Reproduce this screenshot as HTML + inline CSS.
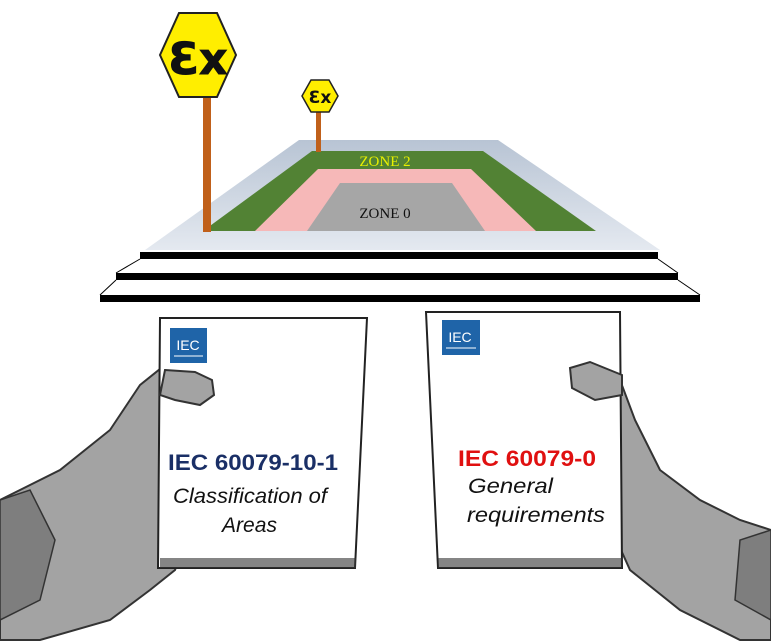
<!DOCTYPE html>
<html><head><style>
html,body{margin:0;padding:0;background:#fff;width:771px;height:644px;overflow:hidden}
svg{display:block}
</style></head><body>
<svg width="771" height="644" viewBox="0 0 771 644" xmlns="http://www.w3.org/2000/svg">
<defs>
<linearGradient id="pl" x1="0" y1="0" x2="0" y2="1"><stop offset="0" stop-color="#b8c4d4"/><stop offset="1" stop-color="#e4e9f0"/></linearGradient>
</defs>
<polygon points="299,140 498,140 660,250 145,250" fill="url(#pl)"/>
<polygon points="312,151 483,151 596,231 203,231" fill="#528234"/>
<polygon points="318,169 471,169 536,231 255,231" fill="#f6b8b8"/>
<polygon points="340,183 452,183 485,231 307,231" fill="#a6a6a6"/>
<text x="385" y="166" font-family="Liberation Serif,serif" font-size="15" fill="#e8f000" text-anchor="middle">ZONE 2</text>
<text x="385" y="218" font-family="Liberation Serif,serif" font-size="15" fill="#111" text-anchor="middle">ZONE 0</text>
<rect x="140" y="252" width="518" height="7" fill="#000"/>
<line x1="140" y1="259" x2="116" y2="273" stroke="#000"/><line x1="658" y1="259" x2="678" y2="273" stroke="#000"/>
<rect x="116" y="273" width="562" height="7" fill="#000"/>
<line x1="116" y1="280" x2="100" y2="295" stroke="#000"/><line x1="678" y1="280" x2="700" y2="295" stroke="#000"/>
<rect x="100" y="295" width="600" height="7" fill="#000"/>
<rect x="203" y="96" width="8" height="136" fill="#c0601a"/>
<rect x="316" y="110" width="5" height="42" fill="#c0601a"/>
<polygon points="179,13 217,13 236,55 217,97 179,97 160,55" fill="#ffee00" stroke="#222" stroke-width="2"/>
<text x="198" y="74" font-family="DejaVu Sans,sans-serif" font-weight="bold" font-size="44" fill="#111" stroke="#111" stroke-width="1" text-anchor="middle">Ɛx</text>
<polygon points="311,80 329,80 338,96 329,112 311,112 302,96" fill="#ffee00" stroke="#222" stroke-width="1.5"/>
<text x="320" y="103" font-family="DejaVu Sans,sans-serif" font-weight="bold" font-size="17" fill="#111" text-anchor="middle">Ɛx</text>
<path d="M0,500 L20,490 L60,470 L110,430 L140,385 L165,365 L190,362 L210,372 L215,395 L200,410 L185,440 L190,530 L175,570 L150,590 L110,620 L40,640 L0,640 Z" fill="#a3a3a3" stroke="#333" stroke-width="2"/>
<path d="M0,500 L30,490 L55,540 L40,600 L0,620 Z" fill="#7e7e7e" stroke="#333" stroke-width="1.5"/>
<path d="M771,530 L740,520 L700,500 L660,470 L635,420 L620,380 L590,362 L570,365 L568,385 L590,405 L610,440 L612,530 L630,570 L680,610 L740,640 L771,640 Z" fill="#a3a3a3" stroke="#333" stroke-width="2"/>
<path d="M771,530 L740,540 L735,600 L771,620 Z" fill="#7e7e7e" stroke="#333" stroke-width="1.5"/>
<polygon points="160,318 367,318 355,568 158,568" fill="#fff" stroke="#222" stroke-width="2"/>
<rect x="160" y="558" width="196" height="10" fill="#333" opacity="0.6"/>
<polygon points="426,312 620,312 622,568 438,568" fill="#fff" stroke="#222" stroke-width="2"/>
<rect x="438" y="558" width="184" height="10" fill="#333" opacity="0.6"/>
<path d="M165,370 L195,372 L212,380 L214,395 L200,405 L175,400 L160,395 Z" fill="#a3a3a3" stroke="#333" stroke-width="2"/>
<path d="M622,395 L595,400 L572,388 L570,368 L590,362 L622,375 Z" fill="#a3a3a3" stroke="#333" stroke-width="2"/>
<rect x="170" y="328" width="37" height="35" fill="#1f64a8"/>
<text x="188" y="350" font-family="Liberation Sans,sans-serif" font-size="14" fill="#fff" text-anchor="middle">IEC</text>
<line x1="174" y1="356" x2="203" y2="356" stroke="#fff" stroke-width="1"/>
<rect x="442" y="320" width="38" height="35" fill="#1f64a8"/>
<text x="460" y="342" font-family="Liberation Sans,sans-serif" font-size="14" fill="#fff" text-anchor="middle">IEC</text>
<line x1="446" y1="348" x2="476" y2="348" stroke="#fff" stroke-width="1"/>
<text x="168" y="470" textLength="170" lengthAdjust="spacingAndGlyphs" font-family="Liberation Sans,sans-serif" font-weight="bold" font-size="22" fill="#1a2f66">IEC 60079-10-1</text>
<text x="173" y="503" textLength="154" lengthAdjust="spacingAndGlyphs" font-family="Liberation Sans,sans-serif" font-style="italic" font-size="21" fill="#111">Classification of</text>
<text x="222" y="532" textLength="55" lengthAdjust="spacingAndGlyphs" font-family="Liberation Sans,sans-serif" font-style="italic" font-size="21" fill="#111">Areas</text>
<text x="458" y="466" textLength="138" lengthAdjust="spacingAndGlyphs" font-family="Liberation Sans,sans-serif" font-weight="bold" font-size="22" fill="#e01010">IEC 60079-0</text>
<text x="468" y="493" textLength="85" lengthAdjust="spacingAndGlyphs" font-family="Liberation Sans,sans-serif" font-style="italic" font-size="21" fill="#111">General</text>
<text x="467" y="522" textLength="138" lengthAdjust="spacingAndGlyphs" font-family="Liberation Sans,sans-serif" font-style="italic" font-size="21" fill="#111">requirements</text>
</svg>
</body></html>
